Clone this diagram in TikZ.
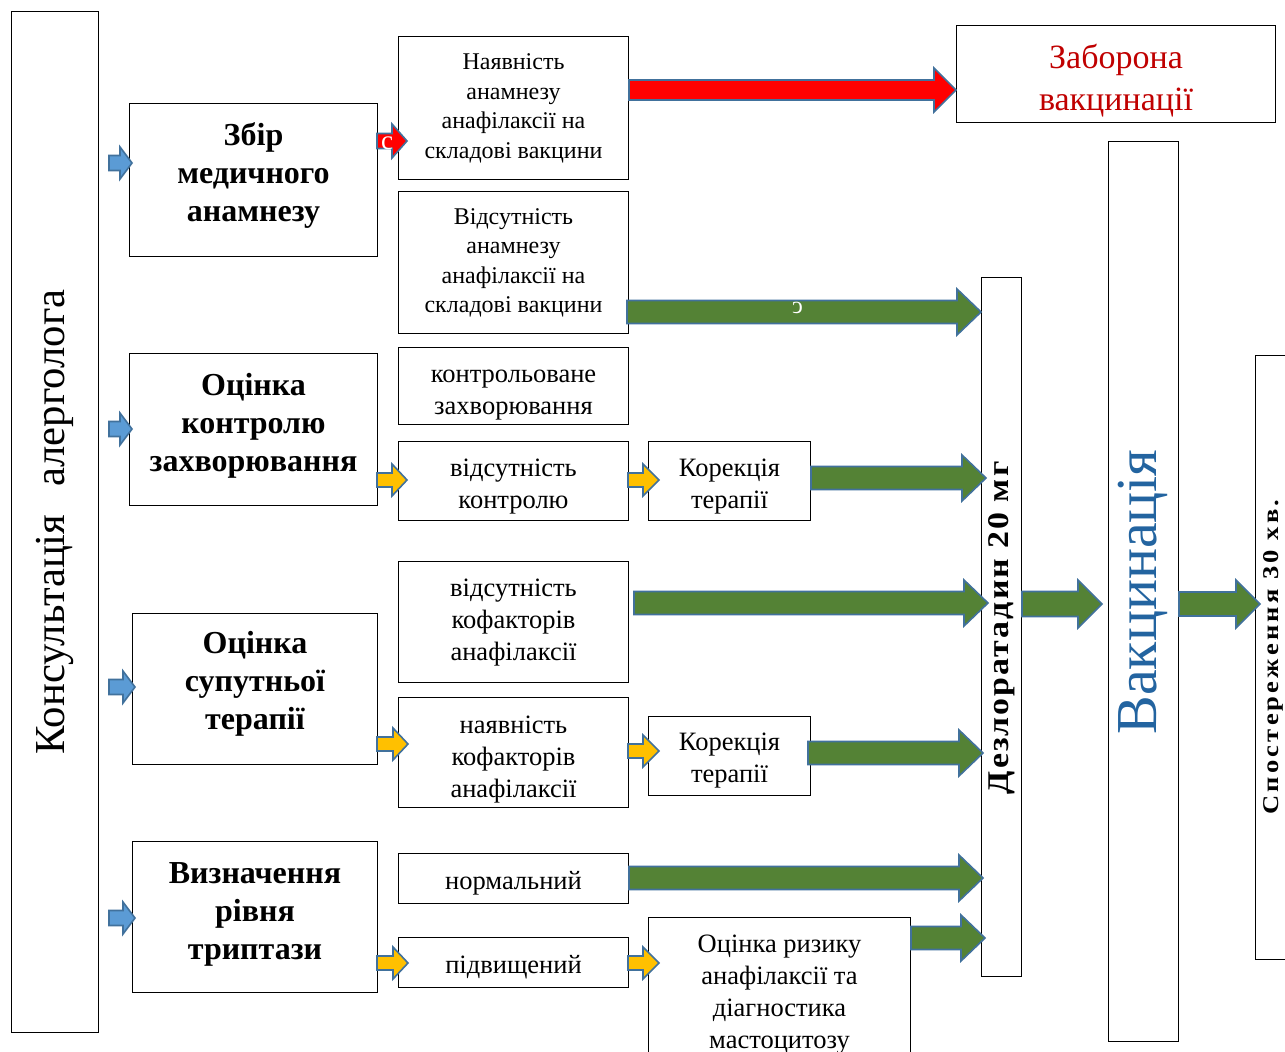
\documentclass[tikz,border=0pt]{standalone}
\usepackage{fontspec}
\setmainfont{Liberation Serif}
\usetikzlibrary{calc}
\definecolor{arrowline}{RGB}{65,113,156}
\definecolor{bluefill}{RGB}{91,155,213}
\definecolor{yellowfill}{RGB}{255,192,0}
\definecolor{greenfill}{RGB}{84,130,53}
\definecolor{redfill}{RGB}{255,0,0}
\definecolor{banred}{RGB}{192,0,0}
\definecolor{vacblue}{RGB}{35,100,160}
\tikzset{
  box/.style={draw=black, line width=1pt, anchor=north west, inner sep=0pt},
  lbl/.style={inner sep=0pt, align=center},
  titletext/.style={lbl, font=\bfseries\fontsize{32}{38}\selectfont},
  smalltext/.style={lbl, font=\fontsize{24}{29.5}\selectfont},
  midtext/.style={lbl, font=\fontsize{26.5}{32}\selectfont},
  bantext/.style={lbl, text=banred, font=\fontsize{34}{42}\selectfont},
  blockarr/.style={draw=arrowline, line width=1.6pt, line join=miter},
  bluearr/.style={blockarr, fill=bluefill},
  yellowarr/.style={blockarr, fill=yellowfill},
  greenarr/.style={blockarr, fill=greenfill},
  redarr/.style={blockarr, fill=redfill},
}
% #1 style, #2 start point, #3 end point (only x used), #4 y, #5 body half, #6 head half, #7 head length
\newcommand\blockarrow[7]{%
  \draw[#1] let \p1=(#2), \p2=(#3) in
    (\x1,{(-#4+#5)*1pt}) -- ({\x2-#7*1pt},{(-#4+#5)*1pt}) -- ({\x2-#7*1pt},{(-#4+#6)*1pt})
    -- (\x2,{-#4*1pt}) -- ({\x2-#7*1pt},{(-#4-#6)*1pt}) -- ({\x2-#7*1pt},{(-#4-#5)*1pt})
    -- (\x1,{(-#4-#5)*1pt}) -- cycle;}
\begin{document}
\begin{tikzpicture}[x=1pt,y=-1pt]
\useasboundingbox[fill=white] (0,0) rectangle (1285,1052);
\clip (0,0) rectangle (1285,1052);

% left column
\node[box, minimum width=87, minimum height=1021] (cons) at (11,11) {};
\node[rotate=90, inner sep=0pt] (constext) at (55,522) {\resizebox{465pt}{!}{\fontsize{40}{40}\selectfont Консультація\hspace{26pt}алерголога}};

\node[box, minimum width=248, minimum height=153] (zbir) at (129,103) {};
\node[titletext] (zbirt) at ($(zbir.center)+(0,-5)$) {Збір\\медичного\\анамнезу};
\node[box, minimum width=248, minimum height=152] (otsk) at (129,353) {};
\node[titletext] (otskt) at ($(otsk.center)+(0,-3.5)$) {Оцінка\\контролю\\захворювання};
\node[box, minimum width=245, minimum height=151] (sup) at (132,613) {};
\node[titletext] (supt) at ($(sup.center)+(0,-5)$) {Оцінка\\супутньої\\терапії};
\node[box, minimum width=245, minimum height=151] (tryp) at (132,841) {};
\node[titletext] (trypt) at ($(tryp.center)+(0,-2.5)$) {Визначення\\рівня\\триптази};

% second column
\node[box, minimum width=230, minimum height=143] (nayav) at (398,36) {};
\node[smalltext] (nayavt) at ($(nayav.center)+(0,0.5)$) {Наявність\\анамнезу\\анафілаксії на\\складові вакцини};
\node[box, minimum width=230, minimum height=142] (vids) at (398,191) {};
\node[smalltext] (vidst) at ($(vids.center)+(0,0.5)$) {Відсутність\\анамнезу\\анафілаксії на\\складові вакцини};
\node[box, minimum width=230, minimum height=77] (kontr) at (398,347) {};
\node[midtext] (kontrt) at ($(kontr.center)+(0,9)$) {контрольоване\\захворювання};
\node[box, minimum width=230, minimum height=79] (vidk) at (398,441) {};
\node[midtext] (vidkt) at ($(vidk.center)+(0,6)$) {відсутність\\контролю};
\node[box, minimum width=230, minimum height=121] (vidkof) at (398,561) {};
\node[midtext] (vidkoft) at ($(vidkof.center)+(0,1)$) {відсутність\\кофакторів\\анафілаксії};
\node[box, minimum width=230, minimum height=110] (naykof) at (398,697) {};
\node[midtext] (naykoft) at ($(naykof.center)+(0,7)$) {наявність\\кофакторів\\анафілаксії};
\node[box, minimum width=230, minimum height=50] (norm) at (398,853) {};
\node[midtext] (normt) at ($(norm.center)+(0,5)$) {нормальний};
\node[box, minimum width=230, minimum height=50] (pidv) at (398,937) {};
\node[midtext] (pidvt) at ($(pidv.center)+(0,5)$) {підвищений};

% third column
\node[box, minimum width=162, minimum height=79] (kor1) at (648,441) {};
\node[midtext] (kor1t) at ($(kor1.center)+(0,6)$) {Корекція\\терапії};
\node[box, minimum width=162, minimum height=79] (kor2) at (648,716) {};
\node[midtext] (kor2t) at ($(kor2.center)+(0,5)$) {Корекція\\терапії};
\node[box, minimum width=262, minimum height=170] (ryz) at (648,917) {};
\node[midtext, anchor=north] (ryzt) at ($(ryz.north)+(0,18)$) {Оцінка ризику\\анафілаксії та\\діагностика\\мастоцитозу};

% right part
\node[box, minimum width=319, minimum height=97] (zab) at (956,25) {};
\node[bantext] (zabt) at ($(zab.center)+(0,6.5)$) {Заборона\\вакцинації};
\node[box, minimum width=40, minimum height=699] (dezl) at (981,277) {};
\node[rotate=90, inner sep=0pt] (dezltext) at (1002,628) {\resizebox{333pt}{20pt}{\fontsize{28}{28}\bfseries\addfontfeature{LetterSpace=6}Дезлоратадин 20 мг}};
\node[box, minimum width=70, minimum height=900] (vak) at (1108,141) {};
\node[rotate=90, inner sep=0pt, text=vacblue] (vaktext) at (1143,592) {\resizebox{285pt}{!}{\fontsize{56}{56}\selectfont Вакцинація}};
\node[box, minimum width=60, minimum height=604] (spost) at (1255,355) {};
\node[rotate=90, inner sep=0pt] (sposttext) at (1273,657) {\resizebox{315pt}{15pt}{\fontsize{21}{21}\bfseries\addfontfeature{LetterSpace=12}Спостереження 30 хв.}};

% blue arrows into first column
\foreach \tgt/\yy in {zbir/163, otsk/429, sup/687, tryp/918}{
  \blockarrow{bluearr}{$(cons.east)+(10,0)$}{$(\tgt.west)+(3,0)$}{\yy}{7.5}{16}{12}
}
% red arrows
\blockarrow{redarr}{$(zbir.east)+(-1,0)$}{$(nayav.west)+(9,0)$}{141}{7.5}{17}{15}
\node[text=white, font=\fontsize{27}{27}\selectfont, inner sep=0pt] (cmark) at (387,143) {с};
\blockarrow{redarr}{nayav.east}{zab.west}{90}{10}{22}{22}

% yellow arrows
\blockarrow{yellowarr}{$(otsk.east)+(-1,0)$}{$(vidk.west)+(9,0)$}{480}{7}{16}{15}
\blockarrow{yellowarr}{$(vidk.east)+(-1,0)$}{$(kor1.west)+(11,0)$}{480}{7}{16}{16}
\blockarrow{yellowarr}{$(sup.east)+(-1,0)$}{$(naykof.west)+(10,0)$}{744}{7}{16}{15}
\blockarrow{yellowarr}{$(naykof.east)+(-1,0)$}{$(kor2.west)+(11,0)$}{751}{7}{16}{16}
\blockarrow{yellowarr}{$(tryp.east)+(-1,0)$}{$(pidv.west)+(10,0)$}{963}{7}{16}{15}
\blockarrow{yellowarr}{$(pidv.east)+(-1,0)$}{$(ryz.west)+(11,0)$}{963}{7}{16}{16}

% green arrows
\blockarrow{greenarr}{$(vids.east)+(-2,0)$}{dezl.west}{312}{11.5}{23}{24}
\node[text=white, font=\fontsize{24}{24}\selectfont, inner sep=0pt] (omark) at (797.5,307.5) {\scalebox{-1}[1]{с}};
\blockarrow{greenarr}{kor1.east}{$(dezl.west)+(5,0)$}{478}{11.5}{23}{24}
\blockarrow{greenarr}{$(vidkof.east)+(5,0)$}{$(dezl.west)+(7,0)$}{603}{11.5}{23}{24}
\blockarrow{greenarr}{$(kor2.east)+(-3,0)$}{$(dezl.west)+(2,0)$}{753}{11.5}{23}{24}
\blockarrow{greenarr}{norm.east}{$(dezl.west)+(2,0)$}{878}{11.5}{23}{24}
\blockarrow{greenarr}{ryz.east}{$(dezl.west)+(4,0)$}{938}{11.5}{23}{24}
\blockarrow{greenarr}{dezl.east}{$(vak.west)+(-6,0)$}{604}{12.5}{24}{24}
\blockarrow{greenarr}{vak.east}{$(spost.west)+(5,0)$}{604}{12}{24}{24}
\end{tikzpicture}
\end{document}
